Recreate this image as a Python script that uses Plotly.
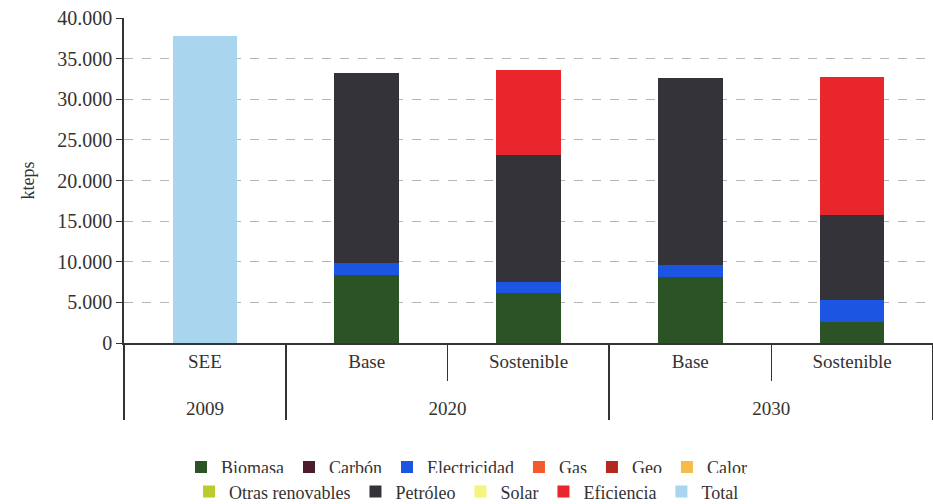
import plotly.graph_objects as go

# Categories: year (outer level) and scenario (inner level)
years = ["2009", "2020", "2020", "2030", "2030"]
scenarios = ["SEE", "Base", "Sostenible", "Base", "Sostenible"]

# Final energy by source, kteps
biomasa = [0, 8400, 6100, 8150, 2600]
carbon = [0, 0, 0, 0, 0]
electricidad = [0, 1400, 1450, 1450, 2700]
gas = [0, 0, 0, 0, 0]
geo = [0, 0, 0, 0, 0]
calor = [0, 0, 0, 0, 0]
otras_renovables = [0, 0, 0, 0, 0]
petroleo = [0, 23400, 15600, 23000, 10450]
solar = [0, 0, 0, 0, 0]
eficiencia = [0, 0, 10450, 0, 17050]
total = [37800, 0, 0, 0, 0]

series = [
    ("Biomasa", biomasa, "#2b5326", "legend"),
    ("Carbón", carbon, "#4a1c2c", "legend"),
    ("Electricidad", electricidad, "#1d55e3", "legend"),
    ("Gas", gas, "#f4582c", "legend"),
    ("Geo", geo, "#b3281f", "legend"),
    ("Calor", calor, "#f7bb4a", "legend"),
    ("Otras renovables", otras_renovables, "#b9cc2c", "legend2"),
    ("Petróleo", petroleo, "#333339", "legend2"),
    ("Solar", solar, "#f6f47c", "legend2"),
    ("Eficiencia", eficiencia, "#e8262b", "legend2"),
    ("Total", total, "#a9d5ef", "legend2"),
]

FONT = "Liberation Serif"
INK = "#333333"

# outer labels get a leading line break so the year row sits lower
year_labels = ["<br>" + y for y in years]

fig = go.Figure()
for name, vals, color, leg in series:
    fig.add_trace(go.Bar(
        name=name,
        x=[year_labels, scenarios],
        y=vals,
        marker=dict(color=color, line=dict(width=0)),
        legend=leg,
    ))

legend_style = dict(
    orientation="h",
    xref="container", yref="container",
    x=0.5, xanchor="center", yanchor="middle",
    font=dict(family=FONT, size=18, color=INK),
    traceorder="normal",
    itemclick=False, tracegroupgap=0,
)

fig.update_layout(
    width=933,
    height=504,
    barmode="stack",
    bargap=0.6,
    separators=",.",
    paper_bgcolor="white",
    plot_bgcolor="white",
    font=dict(family=FONT, size=18, color=INK),
    margin=dict(l=124, r=0, t=18, b=161),
    legend=dict(legend_style, y=0.073),
    legend2=dict(legend_style, y=0.024),
)

fig.update_xaxes(
    type="multicategory",
    showline=True,
    linecolor=INK,
    linewidth=1.5,
    ticks="outside",
    tickson="boundaries",
    ticklen=36,
    tickcolor=INK,
    showdividers=True,
    dividercolor=INK,
    dividerwidth=1.5,
    tickfont=dict(family=FONT, size=19, color=INK),
    showgrid=False,
)

fig.update_yaxes(
    range=[0, 40000],
    dtick=5000,
    tickformat=",d",
    showline=True,
    linecolor=INK,
    linewidth=1.5,
    ticks="outside",
    ticklen=6,
    tickcolor=INK,
    showgrid=True,
    gridcolor="#b5b5b5",
    gridwidth=1,
    griddash="dash",
    zeroline=False,
    tickfont=dict(family=FONT, size=20, color=INK),
    title=dict(text="kteps", font=dict(family=FONT, size=18, color=INK), standoff=18),
)

fig.write_html("out.html")
